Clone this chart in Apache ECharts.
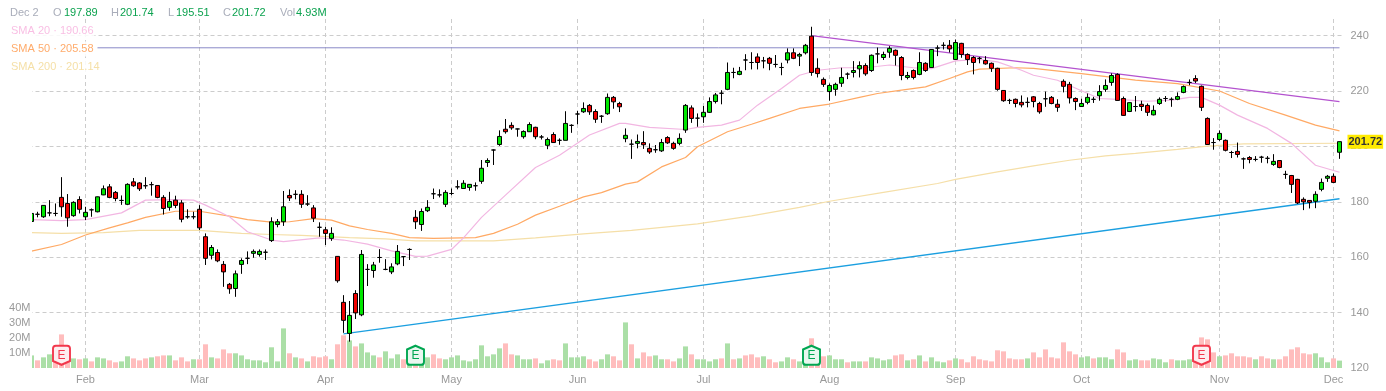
<!DOCTYPE html>
<html lang="en">
<head>
    <meta charset="UTF-8">
    <title>Price Chart</title>
    <script src="https://cdn.jsdelivr.net/npm/echarts@6/dist/echarts.min.js"></script>
    <style>
        html, body { margin: 0; padding: 0; background: #fff; }
        #main { width: 1386px; height: 391px; }
    </style>
</head>
<body>
<div id="main"></div>
<script>
    var opens = [
        172.9,175.5,174.6,176.0,175.8,181.6,179.4,175.0,180.8,174.6,
        177.1,176.4,182.5,185.4,183.4,180.5,179.1,187.2,186.8,185.8,
        186.2,185.9,181.6,178.0,180.6,179.6,174.6,174.6,177.3,167.4,
        160.7,161.7,157.4,150.2,148.7,157.4,159.6,161.4,161.0,161.8,
        166.0,171.8,172.8,182.3,182.7,182.7,179.2,177.8,170.8,169.9,
        166.8,160.3,143.7,132.5,146.9,139.2,155.6,155.2,159.9,155.6,
        154.7,157.6,160.2,162.8,174.4,171.8,176.8,182.9,182.5,179.1,
        183.0,185.4,184.8,185.2,185.8,187.4,194.2,198.7,200.7,206.2,
        207.6,206.3,203.5,205.3,206.9,203.4,200.4,204.3,202.2,202.2,
        207.6,211.7,212.5,214.8,212.6,210.9,211.8,217.7,215.5,202.8,
        200.8,201.1,201.4,199.3,198.8,198.4,203.2,201.1,201.1,205.9,
        213.9,210.2,210.7,212.3,216.2,219.2,220.6,226.7,226.0,231.2,
        230.3,232.3,230.9,231.8,229.6,228.5,231.2,233.8,232.6,233.8,
        239.8,228.2,224.2,219.8,220.6,222.8,226.1,226.7,228.0,229.2,
        227.4,233.4,232.1,234.0,234.7,232.1,224.9,227.4,226.0,230.0,
        228.5,235.5,236.5,236.5,231.4,237.2,233.2,232.1,231.8,231.0,
        230.0,228.2,220.2,216.6,217.0,215.9,215.9,217.9,215.5,217.2,
        217.7,215.2,223.5,222.4,217.3,214.4,215.9,217.0,218.3,220.6,
        223.1,226.0,217.3,212.6,214.4,215.2,214.8,211.4,215.5,217.3,
        217.0,217.0,219.5,223.1,224.5,221.7,210.1,201.4,202.5,202.2,
        197.8,198.2,195.5,196.0,195.3,196.1,195.7,193.5,194.9,189.9,
        189.5,188.1,180.9,180.5,180.2,184.5,188.5,189.2,197.89
    ];
    var closes = [
        175.8,175.5,178.7,176.0,175.8,178.2,174.2,179.8,177.3,176.2,
        177.1,181.8,184.7,181.6,181.2,180.5,186.3,185.8,184.7,185.8,
        186.2,181.6,177.6,180.1,178.7,173.7,174.6,174.6,170.6,159.6,
        163.5,158.7,154.7,148.6,154.0,158.8,159.6,162.1,162.1,161.8,
        172.8,172.8,178.2,181.4,182.7,179.1,179.2,174.1,170.8,168.6,
        168.6,151.5,137.2,139.0,139.9,161.0,155.6,157.2,159.9,155.6,
        156.5,162.1,160.2,162.8,172.8,176.5,178.0,182.9,182.5,183.4,
        183.0,185.4,186.7,186.3,185.8,192.1,194.9,198.7,203.6,205.3,
        206.7,206.3,205.4,207.9,203.5,203.4,202.5,201.4,202.2,208.3,
        207.6,211.7,213.7,212.5,209.8,210.9,217.7,216.1,214.3,204.0,
        200.8,201.8,200.6,198.0,198.8,201.4,201.3,199.3,202.9,214.8,
        210.1,210.2,212.3,216.2,218.6,219.2,226.7,226.7,227.1,231.2,
        230.3,230.3,230.9,230.0,229.6,228.5,233.8,231.8,233.2,236.5,
        226.7,226.3,222.4,222.0,222.4,224.9,226.1,227.4,229.2,226.2,
        232.9,233.4,233.2,235.4,232.9,225.6,225.6,224.9,230.3,227.4,
        235.0,235.5,236.5,235.2,237.5,233.2,231.4,230.3,231.8,229.8,
        228.2,220.6,216.5,216.6,215.5,215.0,215.9,216.2,212.5,217.2,
        215.5,214.1,221.7,217.5,216.2,215.5,217.7,217.0,219.8,222.0,
        225.6,216.6,211.2,215.8,214.4,214.4,212.3,213.0,217.0,217.3,
        217.0,218.0,221.6,223.1,223.6,214.1,200.7,201.4,204.7,198.6,
        197.8,197.1,195.5,195.3,195.3,196.1,195.7,194.6,192.4,189.9,
        186.3,179.6,180.0,179.8,182.7,187.0,189.2,187.0,201.72
    ];
    var lows = [
        172.3,174.4,174.2,174.8,174.8,174.6,171.0,174.6,175.8,173.4,
        174.6,176.2,182.4,181.3,180.2,178.9,178.8,185.4,183.9,184.7,
        182.2,181.3,175.4,176.8,177.7,172.6,173.9,173.7,169.8,157.2,
        159.2,158.2,149.3,146.8,145.7,154.0,157.5,159.8,160.2,159.0,
        165.5,170.8,171.3,180.3,180.9,177.8,178.5,172.7,167.4,164.4,
        165.9,150.8,132.7,129.5,137.7,138.7,149.6,152.6,158.0,155.3,
        153.9,157.1,156.8,159.0,170.2,169.5,176.3,181.0,181.6,178.1,
        182.4,184.5,184.7,184.0,184.0,186.5,192.6,193.3,200.2,204.6,
        206.0,203.5,202.8,205.2,202.6,202.5,199.0,201.3,200.6,202.2,
        204.9,208.0,212.1,211.4,208.5,208.5,211.4,213.6,212.4,201.5,
        195.5,199.3,199.1,197.3,197.7,198.0,200.9,198.8,200.4,204.9,
        208.5,207.1,208.5,212.1,215.5,215.2,220.3,224.6,225.7,227.5,
        227.8,227.8,228.2,227.5,228.5,225.7,230.0,231.5,229.0,233.2,
        225.5,224.9,221.5,216.5,218.3,221.5,224.3,224.9,224.9,225.5,
        226.9,230.0,231.2,232.0,229.2,223.9,224.2,224.2,225.7,226.9,
        228.4,232.6,235.0,233.9,231.2,232.0,229.4,226.0,230.0,229.5,
        226.9,220.1,216.1,215.3,214.1,214.1,214.1,214.1,211.8,214.3,
        215.2,212.5,219.5,215.5,213.1,214.3,215.2,215.7,216.5,219.7,
        221.9,216.5,211.0,212.4,212.6,212.8,211.0,211.2,215.0,216.1,
        214.3,216.7,219.2,222.1,222.9,212.8,200.6,198.8,202.0,198.2,
        195.8,196.0,191.9,193.9,194.6,194.1,193.9,193.0,192.1,188.3,
        183.2,179.2,177.0,177.6,177.7,183.8,187.2,186.8,195.51
    ];
    var highs = [
        176.6,176.4,178.8,180.6,179.4,188.9,182.8,180.2,182.0,178.2,
        177.6,181.9,185.9,186.4,183.9,182.3,186.7,188.6,187.1,188.9,
        187.2,186.0,182.4,183.6,182.2,180.6,177.3,176.4,178.8,168.6,
        164.4,162.8,158.6,150.7,155.2,159.6,162.1,162.8,162.8,162.8,
        174.4,173.8,183.9,184.5,184.2,184.2,182.4,178.8,172.6,171.0,
        170.8,160.4,146.3,144.2,148.1,162.6,157.5,158.3,162.9,159.3,
        157.8,164.4,160.4,163.2,177.0,177.6,180.6,184.8,184.5,184.2,
        184.8,187.8,187.8,186.4,187.0,195.1,195.7,198.9,205.8,209.9,
        208.7,206.4,205.8,208.7,207.1,204.1,203.2,205.1,202.9,212.7,
        208.0,212.8,215.9,215.3,213.4,211.3,219.1,218.2,216.1,206.5,
        202.5,204.3,205.5,201.1,200.5,202.7,203.7,201.7,204.7,215.3,
        214.8,211.9,214.6,217.7,219.3,220.3,230.3,228.4,228.7,233.3,
        234.0,233.6,232.3,232.3,233.0,230.2,235.4,235.4,233.8,237.0,
        243.2,231.8,224.9,222.7,223.0,228.4,226.7,230.8,230.7,230.0,
        233.2,235.7,234.2,236.2,235.0,232.6,226.9,227.8,234.0,230.4,
        235.1,236.5,237.6,238.4,238.6,237.4,233.6,232.6,232.3,232.6,
        230.3,228.4,220.3,217.2,217.3,218.4,217.7,218.2,216.1,219.8,
        218.2,217.0,224.2,223.3,217.7,217.2,219.1,217.9,222.1,224.2,
        226.4,226.4,218.0,215.9,218.2,216.5,215.5,214.8,217.7,218.2,
        217.7,219.5,222.0,224.2,225.7,222.0,210.5,203.0,205.8,202.5,
        198.4,201.4,196.0,196.5,196.5,196.6,196.5,197.2,195.0,191.2,
        189.7,188.3,181.6,180.6,183.8,188.4,189.7,190.2,201.74
    ];
    // millions of shares
    var volumes = [
        8.4,5.1,7.1,9.1,5,22.4,5,6.4,5.8,6.4,
        4.4,7.1,6.4,5.1,3.8,4.4,7.8,6.4,5.1,6.4,
        7.1,7.8,8.4,8.4,5.1,7.1,4.4,5.8,5.8,15.8,
        7.1,6.4,12.4,9.8,9.8,8.4,5.8,5.1,5.1,3.8,
        13.8,4.4,26.4,9.8,7.1,6.4,4.4,7.8,7.1,7.8,
        5.8,15.8,21.8,18.4,14.4,16.4,10.4,8.4,7.1,11.1,
        6.4,9.1,5.8,5,6,5,7.1,9.1,6.4,5.8,
        7.1,8.4,5.1,4.4,5.8,15.1,7.8,9.1,13.1,16.4,
        9.1,8.4,5.8,5.8,6.4,3.1,5.1,5.8,5.1,16.4,
        7.1,7.1,7.8,5.8,4.4,5.8,9.1,7.8,5.1,30.4,
        15.8,6.4,10.4,7.8,8.4,5.8,5.8,4.4,6.4,14.4,
        9.1,5.8,5.8,4.4,5.8,6.4,16.4,5.8,6.4,8.4,
        9.1,7.1,7.8,5.8,3.8,4.4,7.1,5.8,4.4,4,
        19.8,5,7.8,8.4,5.8,5.8,3.8,4.4,4.4,4.4,
        7.1,6.4,5.1,5.8,8.4,9.1,5.1,5.8,8.4,4.4,
        7.1,4.4,3.8,5.1,6.4,5.8,3.8,7.8,5.8,5.1,
        4.4,11.8,11.1,6.4,5.8,5.8,6.4,10.4,7.1,12.4,
        7.1,6.4,17.1,11.1,9.1,7.1,7.8,6.4,7.1,7.1,
        5.8,12.4,10.4,5.1,5.8,5.1,5.1,6.4,5.8,3.8,
        5.8,5.1,5.1,5.8,5,20.4,19.1,10.4,7.8,8.4,
        9.8,7.8,7.8,7.1,5.8,7.8,6.4,5.8,5.8,7.8,
        12.4,13.8,9.8,9.1,9.8,7.1,3.8,6.4,4.93
    ];
    // g = green volume bar, r = red volume bar
    var volumeSides = 'grggrrrgrg' + 'rggrrggrrr' + 'grrgrrrgrr' + 'grrrgggggg' + 'gggrgrgrrr' +
        'grrgrgggrg' + 'ggrgrggrrg' + 'gggggggggr' + 'rgggrggrrg' + 'gggrrggrrg' +
        'rgrrggrrgg' + 'rggggrgrgr' + 'rrgrrggrgg' + 'rrrgggrggr' + 'ggggrrgrgr' +
        'gggrgrrrrr' + 'rrrrrrgrrr' + 'rrrrrggrgg' + 'grrggrrggg' + 'rgggrrrrgr' +
        'rrrrgrrgrr' + 'rrrrgggrg';

    // [candle index, value]
    var sma20 = [[0,173.6],[5,173.2],[9,173.6],[15,176.0],[19,180.6],[24,180.8],[27,180.6],[29,178.8],[33,174.6],[36,169.2],
        [40,166.2],[42,165.6],[48,167.0],[52,166.2],[56,164.7],[60,162.3],[64,160.3],[66,160.4],[70,162.8],[72,167.0],
        [75,174.4],[79,182.4],[84,192.4],[88,196.8],[93,204.1],[98,208.3],[99,208.3],[103,206.9],[109,206.1],[111,206.9],
        [115,207.7],[118,209.5],[121,214.9],[125,220.9],[128,225.7],[131,227.5],[135,228.4],[139,228.4],[143,229.4],[147,228.4],
        [150,228.1],[154,230.9],[158,231.4],[161,230.5],[165,227.5],[167,225.7],[171,223.9],[175,220.1],[178,217.3],[181,217.0],
        [186,216.3],[190,216.7],[193,217.7],[195,217.7],[198,214.9],[201,211.3],[206,206.5],[210,201.1],[214,193.2],[218,190.66]];
    var sma50 = [[0,162.2],[5,164.6],[9,168.0],[13,170.6],[16,172.4],[19,174.4],[24,176.6],[28,176.6],[33,174.8],[36,173.6],
        [40,172.7],[43,172.8],[47,173.9],[50,173.4],[53,171.3],[56,170.0],[60,168.6],[63,167.1],[67,166.8],[74,167.1],
        [77,168.6],[81,171.9],[84,175.2],[88,178.4],[92,181.8],[95,183.3],[99,186.4],[101,187.2],[105,192.6],[109,196.0],
        [111,199.9],[116,205.3],[120,208.0],[123,210.1],[128,213.7],[133,215.3],[138,217.7],[141,219.1],[145,220.3],[149,221.5],
        [153,224.5],[156,226.9],[158,227.9],[164,228.4],[167,228.2],[175,226.3],[184,223.9],[191,222.7],[198,220.0],[203,215.5],
        [209,211.3],[214,207.7],[218,205.58]];
    var sma200 = [[0,168.9],[5,168.6],[12,168.9],[18,169.7],[28,169.7],[35,168.6],[40,168.2],[45,167.9],[53,167.1],[59,166.6],
        [64,165.9],[77,165.9],[84,167.0],[92,168.4],[100,169.7],[111,172.0],[120,174.9],[128,178.0],[133,180.2],[142,183.4],
        [151,186.6],[154,188.1],[161,190.8],[167,193.0],[173,195.0],[179,196.6],[184,197.5],[191,198.9],[196,200.1],[202,200.9],
        [218,201.14]];

    // drawn lines
    var supportLine = [[52,132.3],[218,181.1]];
    var resistanceLine = [[130,240.0],[218,216.2]];
    var levelLine = [[11,235.6],[218,235.6]];

    var monthTicks = {9:'Feb', 28:'Mar', 49:'Apr', 70:'May', 91:'Jun', 112:'Jul', 133:'Aug', 154:'Sep', 175:'Oct', 198:'Nov', 217:'Dec'};
    var earningsBelow = [5, 195];
    var earningsAbove = [64, 130];
    var markerLevel = 8.5;

    var categories = opens.map(function (v, i) { return monthTicks[i] || ''; });
    var last = closes.length - 1;

    var font = '"Liberation Sans", Arial, sans-serif';
    var gray = '#999';
    var gridDash = {color: '#ccc', width: 1, type: [4, 3]};

    function isTick(i) {
        return !!monthTicks[i];
    }

    function lineSeries(name, data, color, width) {
        return {
            name: name, type: 'line', data: data, z: 3,
            showSymbol: false, silent: true,
            lineStyle: {color: color, width: width}
        };
    }

    function earningsPoints(list, path, fill, stroke) {
        return list.map(function (i) {
            return {
                coord: [i, markerLevel], symbol: path, symbolSize: [17, 19],
                itemStyle: {color: fill, borderColor: stroke, borderWidth: 2},
                label: {show: true, formatter: 'E', color: stroke, fontSize: 12, fontFamily: font, position: 'inside'}
            };
        });
    }

    function headerText(x, y, text, color) {
        return {
            type: 'text', z: 20, silent: true,
            style: {x: x, y: y, text: text, fill: color, font: '11px ' + font, verticalAlign: 'middle'}
        };
    }

    function legendRow(y, text, color) {
        var row = headerText(10, y, text, color);
        row.style.backgroundColor = 'rgba(255,255,255,0.85)';
        row.style.padding = [2, 1];
        return row;
    }

    var labelGray = '#a9adba';
    var valueGreen = '#0ca24f';
    var fmt = function (v) { return v.toFixed(2); };

    var chart = echarts.init(document.getElementById('main'), null, {renderer: 'canvas'});
    chart.setOption({
        animation: false,
        backgroundColor: '#fff',
        grid: {left: 28.5, top: 19, width: 1314, height: 349},
        xAxis: {
            type: 'category', data: categories, boundaryGap: true,
            axisLine: {show: false}, axisTick: {show: false},
            axisLabel: {interval: 0, color: gray, fontSize: 11, fontFamily: font, margin: 6},
            splitLine: {show: true, interval: function (i) { return isTick(i); }, alignWithLabel: true, lineStyle: gridDash}
        },
        yAxis: [{
            type: 'value', position: 'right', min: 120, max: 246, interval: 20, scale: false,
            axisLine: {show: false}, axisTick: {show: false},
            axisLabel: {color: gray, fontSize: 11, fontFamily: font, margin: 8, showMaxLabel: false, showMinLabel: true},
            splitLine: {show: true, showMinLine: false, showMaxLine: false, lineStyle: gridDash}
        }, {
            type: 'value', position: 'left', min: 0, max: 232.67, interval: 10, z: 10,
            axisLine: {show: false}, axisTick: {show: false}, splitLine: {show: false},
            axisLabel: {
                color: gray, fontSize: 11, fontFamily: font, margin: -2, padding: [0, 0, 4, 0],
                formatter: function (v) { return v > 0 && v <= 40 ? v + 'M' : ''; }
            }
        }],
        graphic: [{
            // the first candle is cut at the plot edge
            type: 'rect', z: 5, silent: true,
            shape: {x: 0, y: 0, width: 32, height: 391},
            style: {fill: '#fff'}
        },
            headerText(10, 13, 'Dec 2', labelGray),
            headerText(53, 13, 'O', labelGray), headerText(64, 13, fmt(opens[last]), valueGreen),
            headerText(111, 13, 'H', labelGray), headerText(120, 13, fmt(highs[last]), valueGreen),
            headerText(168, 13, 'L', labelGray), headerText(176, 13, fmt(lows[last]), valueGreen),
            headerText(223, 13, 'C', labelGray), headerText(232, 13, fmt(closes[last]), valueGreen),
            headerText(280, 13, 'Vol', labelGray), headerText(296, 13, fmt(volumes[last]) + 'M', valueGreen),
            legendRow(31, 'SMA 20 · ' + fmt(sma20[sma20.length - 1][1]), '#f9bfe4'),
            legendRow(49, 'SMA 50 · ' + fmt(sma50[sma50.length - 1][1]), '#ffab6b'),
            legendRow(67, 'SMA 200 · ' + fmt(sma200[sma200.length - 1][1]), '#f5e0a8')
        ],
        series: [{
            name: 'Volume', type: 'bar', yAxisIndex: 1, z: 2, barWidth: 5, silent: true,
            data: volumes.map(function (v, i) {
                return {value: v, itemStyle: {color: volumeSides.charAt(i) === 'g' ? '#abdfa7' : '#ffbdbd'}};
            }),
            markPoint: {
                silent: true,
                data: earningsPoints(earningsBelow, 'path://M3,0 L15,0 Q18,0 18,3 L18,16 L9,20 L0,16 L0,3 Q0,0 3,0 Z', '#fdeef0', '#f2384c')
                    .concat(earningsPoints(earningsAbove, 'path://M9,0 L18,4 L18,17 Q18,20 15,20 L3,20 Q0,20 0,17 L0,4 Z', '#e9f7ef', '#00a651'))
            }
        },
            lineSeries('SMA 200', sma200, '#f5dfa8', 1.2),
            lineSeries('SMA 50', sma50, '#ffa964', 1.2),
            lineSeries('SMA 20', sma20, '#f2b6e2', 1.2),
            lineSeries('Level', levelLine, '#8a8ac8', 1),
            lineSeries('Support', supportLine, '#1b9fe0', 1.3),
            lineSeries('Resistance', resistanceLine, '#b452cf', 1.3),
        {
            name: 'Price', type: 'candlestick', z: 4, barWidth: 5, silent: true,
            data: opens.map(function (o, i) { return [o, closes[i], lows[i], highs[i]]; }),
            itemStyle: {
                color: '#00e600', color0: '#f00000',
                borderColor: '#000', borderColor0: '#000', borderColorDoji: '#000', borderWidth: 1
            },
            markPoint: {
                silent: true,
                data: [{
                    coord: [last, closes[last]], symbol: 'circle', symbolSize: 0,
                    label: {
                        show: true, position: 'right', distance: 8, formatter: fmt(closes[last]),
                        backgroundColor: '#ffeb00', color: '#333', fontSize: 11, fontWeight: 'bold', fontFamily: font,
                        padding: [2, 1, 1, 1]
                    }
                }]
            }
        }]
    });
</script>
</body>
</html>
